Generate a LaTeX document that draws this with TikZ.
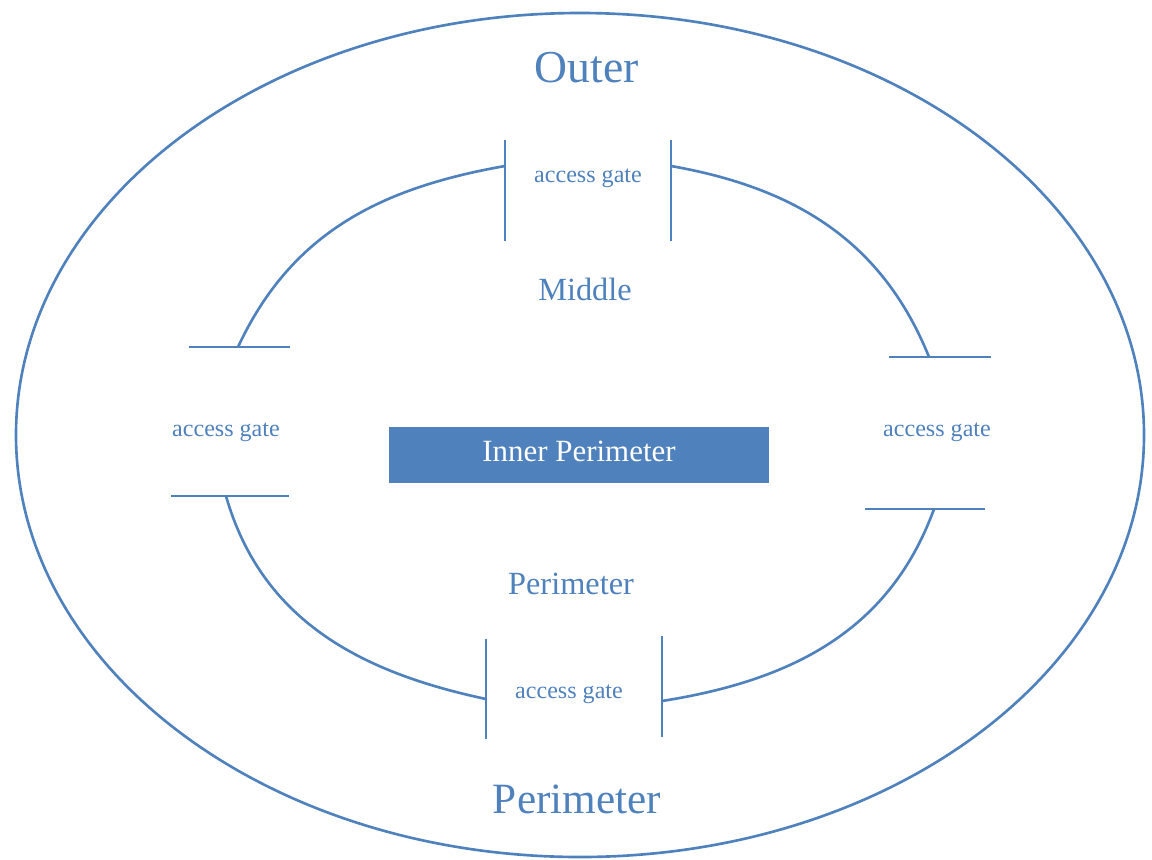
\documentclass[tikz,border=0pt]{standalone}
\usepackage{fontspec}
\setmainfont{Liberation Serif}
\usepackage{tikz}
\definecolor{zoneblue}{HTML}{4F81BD}

\begin{document}
\begin{tikzpicture}[line width=0.75pt,
  zone/.style={draw=zoneblue},
  label/.style={text=zoneblue,anchor=base,inner sep=0pt},
  gatelabel/.style={label,font=\fontsize{6.85}{8}\selectfont},
  zonelabel/.style={label,font=\fontsize{9.2}{11}\selectfont},
  biglabel/.style={label,font=\fontsize{13}{15}\selectfont}]
\useasboundingbox (0,0) rectangle (11.52,8.59);
% outer ring
\draw [zone] (5.80,4.24) ellipse [x radius=5.64, y radius=4.22];
% gate bars
\coordinate (t1a) at (5.05,7.19); \coordinate (t1b) at (5.05,6.18);
\coordinate (t2a) at (6.71,7.19); \coordinate (t2b) at (6.71,6.18);
\coordinate (l1a) at (1.89,5.12); \coordinate (l1b) at (2.90,5.12);
\coordinate (l2a) at (1.71,3.63); \coordinate (l2b) at (2.89,3.63);
\coordinate (r1a) at (8.89,5.02); \coordinate (r1b) at (9.91,5.02);
\coordinate (r2a) at (8.65,3.50); \coordinate (r2b) at (9.85,3.50);
\coordinate (b1a) at (4.86,2.20); \coordinate (b1b) at (4.86,1.20);
\coordinate (b2a) at (6.62,2.23); \coordinate (b2b) at (6.62,1.22);
\draw [zone] (t1a) -- (t1b);
\draw [zone] (t2a) -- (t2b);
\draw [zone] (l1a) -- (l1b);
\draw [zone] (l2a) -- (l2b);
\draw [zone] (r1a) -- (r1b);
\draw [zone] (r2a) -- (r2b);
\draw [zone] (b1a) -- (b1b);
\draw [zone] (b2a) -- (b2b);
% where the middle ring meets the gates
\coordinate (t1) at (5.05,6.93);
\coordinate (t2) at (6.71,6.93);
\coordinate (l1) at (2.38,5.12);
\coordinate (l2) at (2.26,3.63);
\coordinate (r1) at (9.29,5.02);
\coordinate (r2) at (9.34,3.50);
\coordinate (b1) at (4.86,1.60);
\coordinate (b2) at (6.62,1.58);
\draw [zone] (l1) to[out=65,in=190] (t1);
\draw [zone] (t2) to[out=-10,in=112] (r1);
\draw [zone] (r2) to[out=250,in=9] (b2);
\draw [zone] (b1) to[out=168,in=-74] (l2);
% labels
\node [biglabel] (outer) at (5.87,7.77) {Outer};
\node [label,font=\fontsize{12.3}{14}\selectfont] (perim) at (5.77,0.46) {Perimeter};
\node [zonelabel] (middle) at (5.85,5.59) {Middle};
\node [zonelabel] (mperim) at (5.71,2.65) {Perimeter};
\node [gatelabel] (gtop) at (5.88,6.77) {access gate};
\node [gatelabel] (gleft) at (2.26,4.23) {access gate};
\node [gatelabel] (gright) at (9.37,4.23) {access gate};
\node [gatelabel] (gbot) at (5.69,1.61) {access gate};
\fill [zoneblue] (3.89,3.76) rectangle (7.69,4.32);
\node [label,text=white,font=\fontsize{8.8}{10}\selectfont] (inner) at (5.79,3.98) {Inner Perimeter};
\end{tikzpicture}
\end{document}
